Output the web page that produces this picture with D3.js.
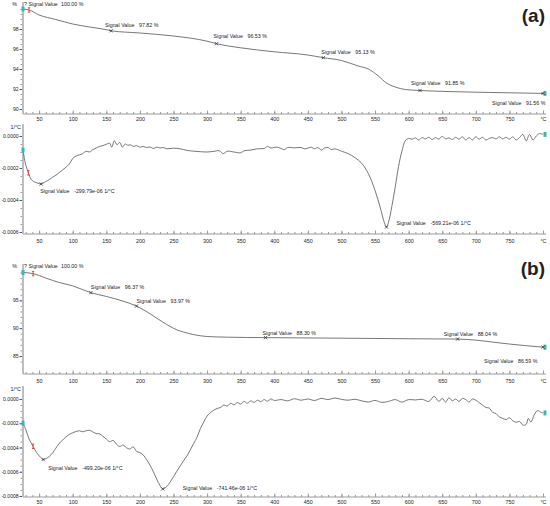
<!DOCTYPE html>
<html><head><meta charset="utf-8">
<script src="https://cdn.jsdelivr.net/npm/d3@7"></script>
<style>
body{margin:0;background:#fff}
svg{display:block}
text{font-family:"Liberation Sans",Arial,sans-serif;fill:#222}
</style>
</head><body>
<svg id="chart" width="550" height="506"></svg>
<script>
// ---------------- DATA ----------------
const xTickValues = [50,100,150,200,250,300,350,400,450,500,550,600,650,700,750,800];
const xTickLabels = ["50","100","150","200","250","300","350","400","450","500","550","600","650","700","750","°C"];

// (a) TG, %
const tgA_T = [26,35,50,75,100,125,150,157,200,250,300,314,350,400,450,473,500,525,540,555,567,580,595,617,650,700,750,800];
const tgA_V = [100,99.9,99.4,98.95,98.5,98.2,97.93,97.82,97.6,97.3,96.78,96.53,96.12,95.72,95.4,95.13,94.85,94.3,94.0,93.3,92.6,92.2,91.95,91.85,91.76,91.68,91.62,91.56];
const annA_TG_T = [26,157,314,473,617,800];
const annA_TG_V = [100.00,97.82,96.53,95.13,91.85,91.56];

// (a) DTG, 1e-6 1/°C
const dtgA_T = [26,30,34,38,42,46,50,53,58,62,66,70,75,80,85,90,95,100,105,110,115,120,125,130,135,140,145,150,155,158,162,166,170,174,178,182,186,190,195,200,205,210,215,220,225,230,235,240,250,260,270,280,290,300,310,318,324,330,340,350,355,365,375,385,390,395,400,405,410,415,420,430,440,445,450,455,460,465,470,475,480,485,490,500,510,520,530,540,550,558,563,567,570,575,580,585,590,595,600,605,610,615,620,625,630,635,640,645,650,655,660,665,670,675,680,685,690,695,700,705,710,715,720,725,730,735,740,745,750,755,760,765,770,775,780,785,790,795,800];
const dtgA_V = [-88,-180,-230,-270,-285,-292,-298,-300,-290,-280,-270,-258,-245,-228,-212,-195,-175,-140,-125,-118,-110,-95,-100,-85,-75,-65,-60,-52,-45,-70,-30,-55,-40,-70,-50,-58,-55,-65,-60,-70,-65,-72,-68,-78,-70,-75,-72,-80,-76,-80,-90,-95,-98,-100,-96,-92,-110,-95,-100,-105,-92,-88,-80,-78,-65,-75,-72,-70,-78,-85,-72,-74,-72,-80,-76,-70,-80,-72,-88,-75,-72,-85,-80,-95,-110,-135,-170,-235,-340,-450,-530,-569,-540,-440,-320,-190,-95,-30,-15,-20,-12,-25,-10,-18,-8,-22,-10,-20,-2,-18,-12,-22,-8,-20,-5,-25,-10,-25,-5,-20,-8,-25,-15,-10,-18,-5,-18,-8,-20,-5,-25,-10,10,-30,10,-25,0,15,10];
const annA_DTG_T = [53,567];
const annA_DTG_V = [-299.79,-569.21];

// (b) TG, %
const tgB_T = [26,41,60,80,100,127,150,175,195,215,225,234,245,255,265,280,300,330,387,450,500,550,600,650,673,700,725,750,775,800];
const tgB_V = [100,99.8,99.0,98.2,97.6,96.37,95.7,94.85,93.97,92.6,91.8,91.1,90.3,89.7,89.3,88.85,88.5,88.38,88.30,88.24,88.2,88.15,88.1,88.06,88.04,87.85,87.5,87.15,86.85,86.59];
const annB_TG_T = [26,127,195,387,673,800];
const annB_TG_V = [100.00,96.37,93.97,88.30,88.04,86.59];

// (b) DTG, 1e-6 1/°C
const dtgB_T = [26,30,35,41,46,52,56,60,65,70,75,80,85,90,95,100,105,110,115,120,125,130,135,140,145,150,155,160,165,170,175,180,185,190,195,200,205,210,215,220,225,230,234,240,245,250,255,260,265,270,275,280,285,290,295,300,305,310,315,320,325,330,335,340,345,350,355,360,365,370,375,380,385,390,395,400,410,420,430,440,450,460,470,480,490,500,510,520,530,540,550,560,570,580,590,600,610,620,630,638,645,650,655,660,665,670,675,680,685,690,695,700,705,710,715,720,725,730,735,740,745,750,755,760,765,770,775,778,782,787,792,797,800];
const dtgB_V = [-200,-250,-330,-390,-440,-480,-499,-492,-475,-445,-405,-365,-340,-312,-292,-278,-268,-262,-270,-262,-258,-272,-285,-288,-308,-330,-352,-342,-372,-392,-380,-402,-412,-395,-432,-442,-462,-500,-545,-600,-660,-715,-741,-722,-685,-642,-595,-552,-510,-470,-420,-368,-315,-245,-190,-140,-112,-92,-78,-70,-50,-58,-35,-48,-30,-42,-20,-35,-15,-28,-10,-22,-5,-18,0,-12,-5,-15,2,-10,0,-12,5,-5,8,-3,-10,-2,-15,-25,-12,-28,-20,-5,-25,-5,-8,-2,-20,22,-20,5,-25,10,-15,0,-20,5,-5,-25,0,-10,-30,-50,-70,-75,-110,-120,-148,-160,-170,-155,-180,-192,-185,-215,-210,-160,-190,-130,-95,-110,-115];
const annB_DTG_T = [56,234];
const annB_DTG_V = [-499.20,-741.46];

// ---------------- DRAWING ----------------
const svg = d3.select("#chart");
const x = d3.scaleLinear().domain([26,800]).range([23,543]);
const minorX = d3.range(30, 801, 10);

const AX = "#9a9a9a", CURVE = "#686868", FS = 5.4, YFS = 5.1, AFS = 5.3;

function zip(a,b){ const n=Math.min(a.length,b.length); return d3.range(n).map(i=>[a[i],b[i]]); }

function panel(cfg){
  const y = d3.scaleLinear().domain(cfg.yDomain).range(cfg.yRange);
  const g = svg.append("g");
  // x axis baseline
  g.append("line").attr("x1",23).attr("x2",546).attr("y1",cfg.bottom).attr("y2",cfg.bottom)
    .attr("stroke",AX).attr("stroke-width",1);
  // minor x ticks
  const minAx = g.append("g").attr("transform",`translate(0,${cfg.bottom})`)
    .call(d3.axisBottom(x).tickValues(minorX).tickSize(-2).tickFormat(""));
  minAx.select(".domain").remove();
  minAx.selectAll("line").attr("stroke",AX);
  // major x ticks + labels
  const majAx = g.append("g").attr("transform",`translate(0,${cfg.bottom})`)
    .call(d3.axisBottom(x).tickValues(xTickValues).tickSize(-3.5).tickPadding(cfg.pad)
      .tickFormat((d,i)=>xTickLabels[i]));
  majAx.select(".domain").remove();
  majAx.selectAll("line").attr("stroke",AX);
  majAx.selectAll("text").attr("font-size",FS).attr("fill","#222").attr("font-family","Liberation Sans, Arial, sans-serif");
  // y axis bar
  g.append("line").attr("x1",23).attr("x2",23).attr("y1",cfg.top).attr("y2",cfg.bottom)
    .attr("stroke","#bdbdbd").attr("stroke-width",2);
  // minor y ticks
  const yMinor = d3.range(cfg.minor[0], cfg.minor[1]+1e-9, cfg.minor[2]);
  const yMinAx = g.append("g").attr("transform","translate(22,0)")
    .call(d3.axisLeft(y).tickValues(yMinor).tickSize(1.5).tickFormat(""));
  yMinAx.select(".domain").remove();
  yMinAx.selectAll("line").attr("stroke",AX);
  const yAx = g.append("g").attr("transform","translate(22,0)")
    .call(d3.axisLeft(y).tickValues(cfg.yTicks).tickSize(2.5).tickPadding(0.8).tickFormat(cfg.fmt));
  yAx.select(".domain").remove();
  yAx.selectAll("line").attr("stroke","#555");
  yAx.selectAll("text").attr("font-size",YFS).attr("fill","#222").attr("font-family","Liberation Sans, Arial, sans-serif");
  // unit
  g.append("text").attr("x",cfg.unitX).attr("y",cfg.unitY).attr("text-anchor","end")
    .attr("font-size",FS).text(cfg.unit);
  // curve
  const data = zip(cfg.T, cfg.V);
  const line = d3.line().x(d=>x(d[0])).y(d=>y(d[1])).curve(cfg.curve);
  g.append("path").datum(data).attr("d",line).attr("fill","none")
    .attr("stroke",CURVE).attr("stroke-width",0.9);
  // cyan markers start & end
  [data[0], data[data.length-1]].forEach((d,i)=>{
    g.append("rect").attr("x",x(d[0])-1.5+(i?2:0)).attr("y",y(d[1])-2.5).attr("width",3).attr("height",5)
      .attr("fill","#39b8b8");
  });
  // red marker
  const rd = data.find(d=>d[0]===cfg.redT);
  const rx = x(rd[0]), ry = y(rd[1]);
  g.append("path").attr("d",`M${rx-1.2},${ry-2.2}H${rx+1.2}M${rx},${ry-2.2}V${ry+2.2}M${rx-1.2},${ry+2.2}H${rx+1.2}`)
    .attr("stroke","#e03c3c").attr("stroke-width",0.9).attr("fill","none");
  // annotations
  const ann = zip(cfg.annT, cfg.annV);
  ann.forEach((d,i)=>{
    const mx = x(d[0]), my = y(d[1]);
    if(!(i===0 && cfg.firstPlain)){
      const s=1.6;
      g.append("path").attr("d",`M${mx-s},${my-s}L${mx+s},${my+s}M${mx-s},${my+s}L${mx+s},${my-s}`)
        .attr("stroke","#333").attr("stroke-width",0.8);
    }
    const off = cfg.annOff[i];
    const tx = mx+off[0], ty = my+off[1];
    const first = (i===0 && cfg.firstPlain);
    g.append("text").attr("x",tx).attr("y",ty).attr("font-size",AFS)
      .text(first ? "? Signal Value" : "Signal Value");
    g.append("text").attr("x",tx+(first?37:34)).attr("y",ty).attr("font-size",AFS)
      .text(cfg.annFmt(d[1]));
  });
  return y;
}

const fmtPct = v => d3.format(".2f")(v)+" %";
const fmtDtg = v => v.toFixed(2)+"e-06 1/°C";
const fmtTickDtg = d => (d*1e-6).toFixed(4);

// (a) TG
panel({T:tgA_T, V:tgA_V, yDomain:[90,100], yRange:[109,9], top:2, bottom:114, pad:3,
  yTicks:[90,92,94,96,98], fmt:d=>String(d), minor:[90,100,0.5],
  unit:"%", unitX:17, unitY:6, curve:d3.curveMonotoneX, redT:35,
  annT:annA_TG_T, annV:annA_TG_V, firstPlain:true, annFmt:fmtPct,
  annOff:[[1,-3],[-6,-4],[-3,-6],[-2,-4],[-9,-6],[-51,12]]});

// (a) DTG
panel({T:dtgA_T, V:dtgA_V, yDomain:[-600,0], yRange:[232,136], top:124, bottom:234, pad:5,
  yTicks:[-600,-400,-200,0], fmt:fmtTickDtg, minor:[-600,0,50],
  unit:"1/°C", unitX:21, unitY:129, curve:d3.curveCatmullRom.alpha(0.5), redT:34,
  annT:annA_DTG_T, annV:annA_DTG_V, firstPlain:false, annFmt:fmtDtg,
  annOff:[[-1,9],[10,-2]]});

// (b) TG
panel({T:tgB_T, V:tgB_V, yDomain:[85,100], yRange:[356,272.5], top:264, bottom:374, pad:5,
  yTicks:[85,90,95], fmt:d=>String(d), minor:[84,100,1],
  unit:"%", unitX:17, unitY:268, curve:d3.curveMonotoneX, redT:41,
  annT:annB_TG_T, annV:annB_TG_V, firstPlain:true, annFmt:fmtPct,
  annOff:[[1,-4.5],[0,-4],[0,-3],[-3,-3],[-14,-3],[-59,16]]});

// (b) DTG
panel({T:dtgB_T, V:dtgB_V, yDomain:[-800,0], yRange:[496,399], top:386, bottom:497, pad:3,
  yTicks:[-800,-600,-400,-200,0], fmt:fmtTickDtg, minor:[-800,0,50],
  unit:"1/°C", unitX:21, unitY:391, curve:d3.curveCatmullRom.alpha(0.5), redT:41,
  annT:annB_DTG_T, annV:annB_DTG_V, firstPlain:false, annFmt:fmtDtg,
  annOff:[[5,10],[20,1]]});

// panel labels
svg.append("text").attr("x",545).attr("y",22).attr("text-anchor","end")
  .attr("font-size",19).attr("font-weight","bold").attr("fill","#111").text("(a)");
svg.append("text").attr("x",545).attr("y",275).attr("text-anchor","end")
  .attr("font-size",19).attr("font-weight","bold").attr("fill","#111").text("(b)");
</script>
</body></html>
